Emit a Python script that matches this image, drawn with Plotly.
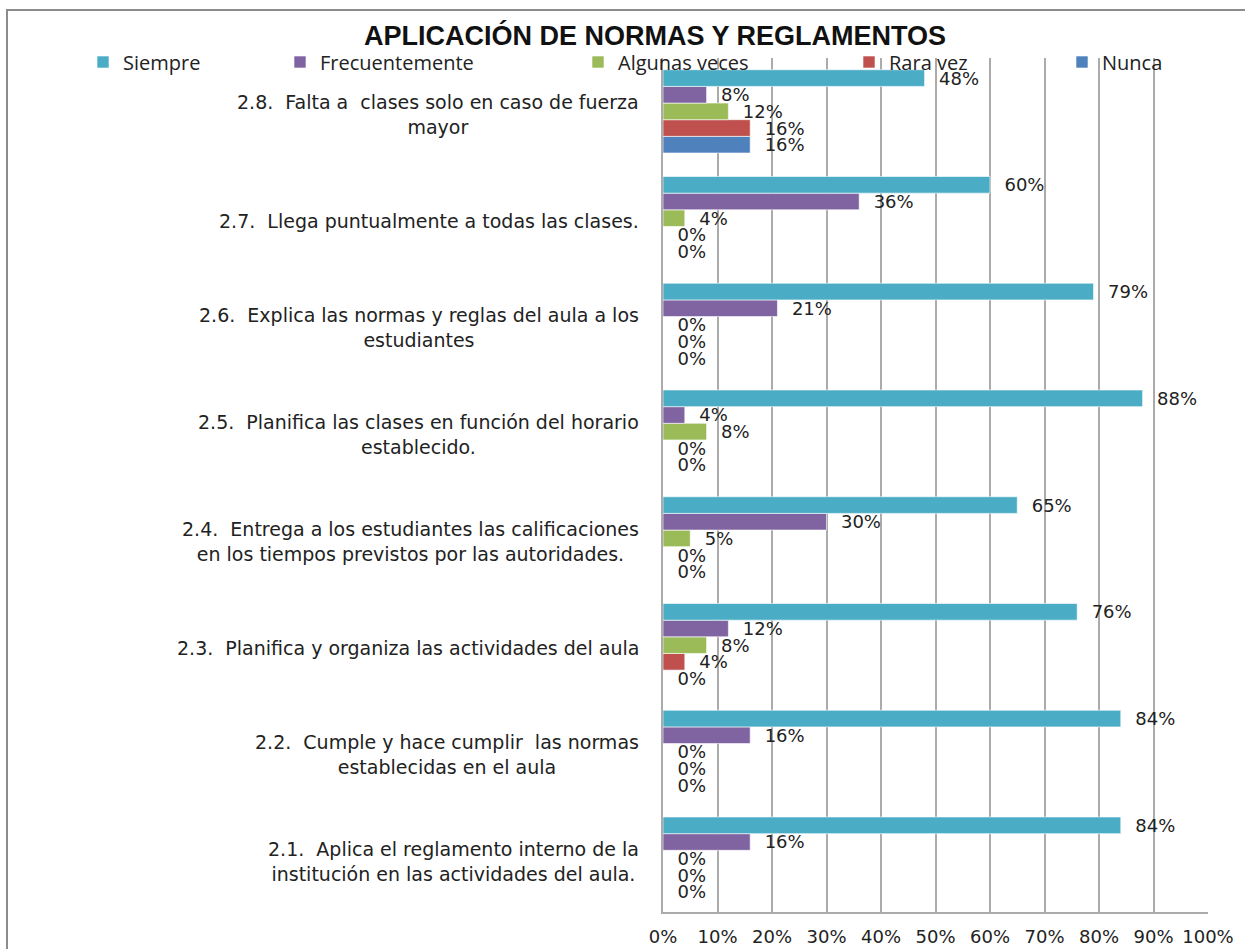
import plotly.graph_objects as go

categories = [
    "2.1.  Aplica el reglamento interno de la<br>institución en las actividades del aula.",
    "2.2.  Cumple y hace cumplir  las normas<br>establecidas en el aula",
    "2.3.  Planifica y organiza las actividades del aula",
    "2.4.  Entrega a los estudiantes las calificaciones<br>en los tiempos previstos por las autoridades.",
    "2.5.  Planifica las clases en función del horario<br>establecido.",
    "2.6.  Explica las normas y reglas del aula a los<br>estudiantes",
    "2.7.  Llega puntualmente a todas las clases.",
    "2.8.  Falta a  clases solo en caso de fuerza<br>mayor",
]
series_names = ["Siempre", "Frecuentemente", "Algunas veces", "Rara vez", "Nunca"]
siempre = [0.84, 0.84, 0.76, 0.65, 0.88, 0.79, 0.60, 0.48]
frecuentemente = [0.16, 0.16, 0.12, 0.30, 0.04, 0.21, 0.36, 0.08]
algunas_veces = [0.00, 0.00, 0.08, 0.05, 0.08, 0.00, 0.04, 0.12]
rara_vez = [0.00, 0.00, 0.04, 0.00, 0.00, 0.00, 0.00, 0.16]
nunca = [0.00, 0.00, 0.00, 0.00, 0.00, 0.00, 0.00, 0.16]
tick_vals = [i / 10 for i in range(11)]
tick_text = [f"{i*10}%" for i in range(11)]

colors = ["#4BACC6", "#8064A2", "#9BBB59", "#C0504D", "#4F81BD"]
values = [siempre, frecuentemente, algunas_veces, rara_vez, nunca]

# plot area geometry (px)
W, H = 1245, 949
L, R, T, B = 663, 37, 58, 37
pw = W - L - R
ph = H - T - B

# legend text start positions (px) in the reference
legend_text_px = [121, 318, 616, 887, 1100]

fig = go.Figure()
ids = list(range(len(categories)))
for k in reversed(range(5)):
    lg = "legend" if k == 0 else f"legend{k+1}"
    fig.add_trace(go.Bar(
        y=ids, x=values[k], orientation="h", name=series_names[k],
        marker=dict(color=colors[k], line=dict(color="rgba(255,255,255,0.6)", width=1)),
        texttemplate="\u00a0\u00a0%{x:.0%}", textposition="outside", constraintext="none",
        textfont=dict(family="DejaVu Sans", size=18, color="#222"),
        cliponaxis=False, legend=lg, showlegend=True,
    ))

layout_legends = {}
for k in range(5):
    lg = "legend" if k == 0 else f"legend{k+1}"
    layout_legends[lg] = dict(
        x=(legend_text_px[k] - 38 - L) / pw, y=(H - B - 62) / ph, xref="paper", yref="paper",
        xanchor="left", yanchor="middle", orientation="h",
        bgcolor="rgba(0,0,0,0)", borderwidth=0,
        font=dict(family="Open Sans", size=20, color="#222"),
        itemwidth=30,
    )

annotations = []
for i, c in enumerate(categories):
    annotations.append(dict(
        x=0, xref="paper", y=i, yref="y", text=c, showarrow=False,
        xanchor="right", yanchor="middle", align="center", xshift=-22, yshift=-3,
        font=dict(family="DejaVu Sans", size=19, color="#222"),
    ))

fig.update_layout(
    width=W, height=H,
    margin=dict(l=L, r=R, t=T, b=B, pad=0, autoexpand=False),
    paper_bgcolor="white", plot_bgcolor="white",
    showlegend=True,
    barmode="group", bargap=0.22, bargroupgap=0,
    title=dict(text="<b>APLICACIÓN DE NORMAS Y REGLAMENTOS</b>", x=655 / W, xanchor="center",
               y=1 - 36 / H, yanchor="middle",
               font=dict(family="Liberation Sans", size=27, color="#111")),
    xaxis=dict(range=[0, 1], tickvals=tick_vals, ticktext=tick_text, showgrid=True,
               gridcolor="#ABABAB", gridwidth=1.5, showline=True, linecolor="#ABABAB", linewidth=1.5,
               zeroline=False, ticks="", ticklabelstandoff=8, automargin=False,
               tickfont=dict(family="DejaVu Sans", size=18, color="#222"), fixedrange=True),
    yaxis=dict(range=[-0.5, len(categories) - 0.5], showticklabels=False, showgrid=False,
               showline=True, linecolor="#ABABAB", linewidth=1.5, zeroline=False, ticks="",
               automargin=False, fixedrange=True),
    annotations=annotations,
    shapes=[dict(type="path", xref="paper", yref="paper",
                 path=f"M {(7-L)/pw} {(H-B-H-5)/ph} L {(7-L)/pw} {(H-B-10)/ph} L {(W+5-L)/pw} {(H-B-10)/ph}",
                 line=dict(color="#8C8C8C", width=2))],
    **layout_legends,
)

fig.write_html("out.html", config={"displayModeBar": False},
               post_script="document.body.style.margin='0';")
